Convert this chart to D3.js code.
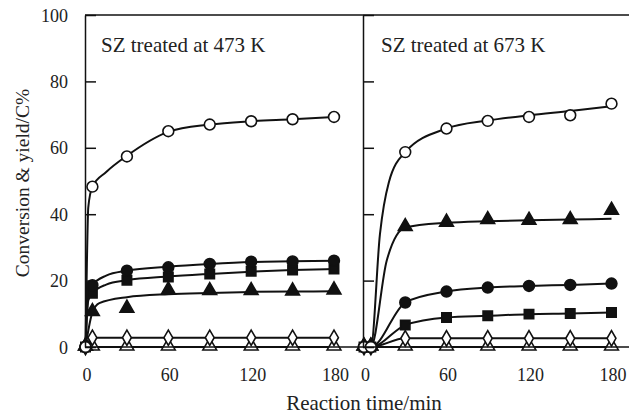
<!DOCTYPE html>
<html>
<head>
<meta charset="utf-8">
<script src="https://cdn.jsdelivr.net/npm/d3@7"></script>
<style>
  body { margin: 0; background: #fff; }
  svg text { font-family: "Liberation Serif", "Times New Roman", Times, serif; fill: #222; }
</style>
</head>
<body>
<div id="chart"></div>
<script>
// sampling times (min)
var times = [0, 5, 30, 60, 90, 120, 150, 180];
var yTicks = [0, 20, 40, 60, 80, 100];
var xTicks = [0, 60, 120, 180];
var panelTitles = ["SZ treated at 473 K", "SZ treated at 673 K"];

// markers, SZ treated at 473 K
var openCircleA   = [0, 48.3, 57.4, 65.0, 67.0, 68.0, 68.6, 69.3];
var fillCircleA   = [0, 18.6, 23.0, 24.0, 25.0, 25.7, 25.8, 26.0];
var fillSquareA   = [0, 16.2, 20.1, 21.1, 22.0, 22.8, 23.2, 23.5];
var fillTriA      = [0, 10.4, 11.4, 16.9, 16.7, 16.7, 16.6, 16.9];
var openDiamondA  = [0, 2.8, 2.8, 2.8, 2.8, 2.8, 2.8, 2.8];
var openTriA      = [0, 0, 0, 0, 0, 0, 0, 0];

// markers, SZ treated at 673 K
var openCircleB   = [0, 0, 58.7, 65.8, 68.1, 69.3, 69.8, 73.3];
var fillCircleB   = [0, 0, 13.4, 16.7, 17.9, 18.4, 18.7, 19.1];
var fillSquareB   = [0, 0, 6.6, 8.9, 9.4, 9.9, 10.1, 10.4];
var fillTriB      = [0, 0, 36.0, 37.3, 38.1, 37.9, 38.1, 40.9];
var openDiamondB  = [0, 0, 2.6, 2.6, 2.6, 2.6, 2.6, 2.6];
var openTriB      = [0, 0, 0, 0, 0, 0, 0, 0];

// fitted curves
var fitTimeA      = [0, 1, 2, 5, 15, 30, 60, 90, 120, 150, 180];
var fitOpenCircA  = [0, 25, 42, 48.3, 52.7, 57.6, 64.8, 67.0, 68.0, 68.6, 69.3];
var fitFillCircA  = [0, 10, 16, 18.6, 21.5, 23.0, 24.2, 25.0, 25.6, 25.8, 26.0];
var fitFillSqA    = [0, 9, 14, 16.2, 18.8, 20.1, 21.2, 22.0, 22.7, 23.2, 23.5];
var fitTimeA2     = [0, 5, 10, 30, 60, 90, 120, 150, 180];
var fitFillTriA   = [0, 10.4, 13.2, 15.0, 15.9, 16.3, 16.6, 16.7, 16.8];

var fitTimeB      = [0, 5, 11.6, 18, 30, 60, 90, 120, 150, 180];
var fitOpenCircB  = [0, 0, 34, 49.5, 58.7, 65.8, 68.2, 69.8, 71.1, 72.5];
var fitTimeB2     = [0, 5, 16.5, 30, 60, 90, 120, 150, 180];
var fitFillTriB   = [0, 0, 26, 36.0, 37.4, 37.9, 38.2, 38.4, 38.6];
var fitTimeB3     = [0, 5, 30, 60, 90, 120, 150, 180];
var fitFillCircB  = [0, 0, 13.4, 16.7, 17.9, 18.4, 18.7, 19.1];
var fitFillSqB    = [0, 0, 6.6, 8.9, 9.4, 9.9, 10.1, 10.4];

var width = 629, height = 418;
var serif = "'Liberation Serif', 'Times New Roman', Times, serif";
var svg = d3.select("#chart").append("svg")
    .attr("width", width)
    .attr("height", height)
    .style("font-family", serif);

var y = d3.scaleLinear().domain([0, 100]).range([347, 15]);
var xA = d3.scaleLinear().domain([0, 180]).range([85.5, 334]);
var xB = d3.scaleLinear().domain([0, 180]).range([364, 611.5]);

function pts(ts, vs) { return ts.map(function(t, i) { return [t, vs[i]]; }); }

var shapes = {
  circle:  { type: d3.symbolCircle,   size: 92 },
  square:  { type: d3.symbolSquare,   size: 88 },
  triangle:{ type: d3.symbolTriangle, size: 82 },
  diamond: { type: d3.symbolDiamond,  size: 68 }
};

function drawPanel(x, series, fits, title, titleX) {
  var g = svg.append("g");
  var line = d3.line()
      .x(function(d) { return x(d[0]); })
      .y(function(d) { return y(d[1]); })
      .curve(d3.curveMonotoneX);

  fits.forEach(function(f) {
    g.append("path")
      .attr("d", line(pts(f[0], f[1])))
      .attr("fill", "none")
      .attr("stroke", "#111")
      .attr("stroke-width", 2);
  });

  series.forEach(function(s) {
    g.selectAll(null)
      .data(pts(times, s.values))
      .enter().append("path")
        .attr("transform", function(d) { return "translate(" + x(d[0]) + "," + (y(d[1]) + (s.dy || 0)) + ")"; })
        .attr("d", d3.symbol().type(shapes[s.shape].type).size(shapes[s.shape].size))
        .attr("fill", s.filled ? "#111" : "#fff")
        .attr("stroke", "#111")
        .attr("stroke-width", 1.6);
  });

  g.append("text")
    .attr("x", titleX)
    .attr("y", 52)
    .style("font-family", serif)
    .attr("font-size", 21)
    .text(title);

  g.append("g")
    .selectAll("text")
    .data(xTicks)
    .enter().append("text")
      .attr("x", function(d) { return x(d) + 1.5; })
      .attr("y", 381)
      .attr("text-anchor", "middle")
      .style("font-family", serif)
      .attr("font-size", 18)
      .text(function(d) { return d; });
}

// straight segments for the flat series
function flatFit(vals) { return [times, vals]; }

drawPanel(xA, [
    { shape: "triangle", values: openTriA, filled: false, dy: -1 },
    { shape: "diamond", values: openDiamondA, filled: false },
    { shape: "triangle", values: fillTriA, filled: true, dy: -1 },
    { shape: "square", values: fillSquareA, filled: true },
    { shape: "circle", values: fillCircleA, filled: true },
    { shape: "circle", values: openCircleA, filled: false }
  ], [
    flatFit(openTriA), flatFit(openDiamondA),
    [fitTimeA2, fitFillTriA], [fitTimeA, fitFillSqA],
    [fitTimeA, fitFillCircA], [fitTimeA, fitOpenCircA]
  ], panelTitles[0], 101);

drawPanel(xB, [
    { shape: "triangle", values: openTriB, filled: false, dy: -1 },
    { shape: "diamond", values: openDiamondB, filled: false },
    { shape: "square", values: fillSquareB, filled: true },
    { shape: "circle", values: fillCircleB, filled: true },
    { shape: "triangle", values: fillTriB, filled: true, dy: -1 },
    { shape: "circle", values: openCircleB, filled: false }
  ], [
    flatFit(openTriB), flatFit(openDiamondB),
    [fitTimeB3, fitFillSqB], [fitTimeB3, fitFillCircB],
    [fitTimeB2, fitFillTriB], [fitTimeB, fitOpenCircB]
  ], panelTitles[1], 381);

// frame: left axis, middle divider, top and bottom lines
var yAxis = d3.axisLeft(y).tickValues(yTicks).tickSizeInner(-11).tickSizeOuter(0).tickPadding(17);
var ga = svg.append("g").attr("transform", "translate(85,0)").call(yAxis);
ga.attr("font-family", null).attr("font-size", null);
ga.selectAll("text").style("font-family", serif).attr("font-size", 18).attr("fill", "#222").attr("dy", "0.34em");
ga.selectAll("line, path").attr("stroke", "#111").attr("stroke-width", 1.5);

var gm = svg.append("g").attr("transform", "translate(363,0)")
    .call(d3.axisLeft(y).tickValues(yTicks).tickSizeInner(-11).tickSizeOuter(0).tickFormat(""));
gm.selectAll("line, path").attr("stroke", "#111").attr("stroke-width", 1.5);

svg.append("line").attr("x1", 85).attr("x2", width).attr("y1", y(100)).attr("y2", y(100))
  .attr("stroke", "#111").attr("stroke-width", 1.5);
svg.append("line").attr("x1", 85).attr("x2", width).attr("y1", y(0)).attr("y2", y(0))
  .attr("stroke", "#111").attr("stroke-width", 1.5);

svg.append("text")
  .attr("x", 364)
  .attr("y", 410)
  .attr("text-anchor", "middle")
  .style("font-family", serif)
  .attr("font-size", 21)
  .text("Reaction time/min");

svg.append("text")
  .attr("transform", "translate(29,183) rotate(-90)")
  .attr("text-anchor", "middle")
  .style("font-family", serif)
  .attr("font-size", 19.5)
  .text("Conversion & yield/C%");
</script>
</body>
</html>
